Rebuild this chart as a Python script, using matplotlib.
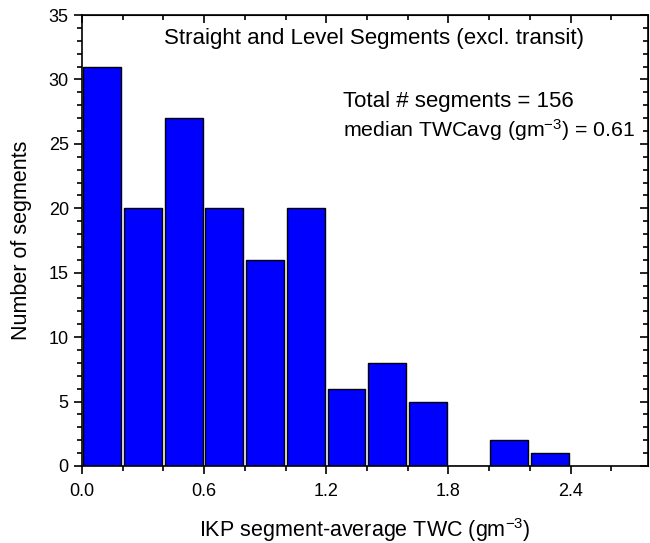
import numpy as np
import matplotlib
matplotlib.use('Agg')
import matplotlib.pyplot as plt
from matplotlib.ticker import MultipleLocator

plt.rcParams['font.family'] = ['Liberation Sans', 'DejaVu Sans']
plt.rcParams['mathtext.default'] = 'regular'

# histogram data
bin_left = [0.0, 0.2, 0.4, 0.6, 0.8, 1.0, 1.2, 1.4, 1.6, 1.8, 2.0, 2.2]
counts = [31, 20, 27, 20, 16, 20, 6, 8, 5, 0, 2, 1]
xtick_values = [0.0, 0.6, 1.2, 1.8, 2.4]

fig = plt.figure(figsize=(6.5, 5.43), dpi=100)
ax = fig.add_axes([82 / 650, 1 - 466 / 543, 566 / 650, 451 / 543])

ax.bar(np.array(bin_left) + 0.006, counts, width=0.186, align='edge',
       color='#0000ff', edgecolor='black', linewidth=1.0)

ax.set_xlim(0, 2.78)
ax.set_ylim(0, 35)
ax.set_xticks(xtick_values)
ax.set_xticklabels(['%.1f' % v for v in xtick_values])
ax.xaxis.set_minor_locator(MultipleLocator(0.2))
ax.yaxis.set_major_locator(MultipleLocator(5))
ax.yaxis.set_minor_locator(MultipleLocator(1))

ax.tick_params(which='both', direction='out', top=False, right=False,
               labelsize=13, width=1.2)
ax.tick_params(which='major', length=6)
ax.tick_params(which='minor', length=3.5)
ax.tick_params(axis='x', which='major', pad=6)

# inward ticks on the top and right
ax2 = ax.secondary_xaxis('top')
ax2.set_xticks(xtick_values)
ax2.xaxis.set_minor_locator(MultipleLocator(0.2))
ax2.tick_params(which='both', direction='in', labeltop=False, width=1.2)
ax2.tick_params(which='major', length=6)
ax2.tick_params(which='minor', length=3.5)
ax3 = ax.secondary_yaxis('right')
ax3.yaxis.set_major_locator(MultipleLocator(5))
ax3.yaxis.set_minor_locator(MultipleLocator(1))
ax3.tick_params(which='both', direction='in', labelright=False, width=1.2)
ax3.tick_params(which='major', length=6)
ax3.tick_params(which='minor', length=3.5)

for s in ax.spines.values():
    s.set_linewidth(1.2)

ax.set_xlabel('IKP segment-average TWC (gm$^{-3}$)', fontsize=15.5, labelpad=12)
ax.set_ylabel('Number of segments', fontsize=15.5, labelpad=12)

ax.text(0.516, 0.949, 'Straight and Level Segments (excl. transit)',
        transform=ax.transAxes, ha='center', va='center', fontsize=16)
ax.text(0.461, 0.809, 'Total # segments = 156',
        transform=ax.transAxes, ha='left', va='center', fontsize=16)
ax.text(0.461, 0.745, 'median TWCavg (gm$^{-3}$) = 0.61',
        transform=ax.transAxes, ha='left', va='center', fontsize=15.3)

fig.savefig('out.png', dpi=100)
